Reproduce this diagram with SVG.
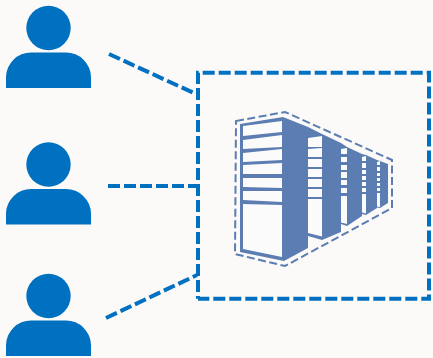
<svg xmlns="http://www.w3.org/2000/svg" width="433" height="358" viewBox="0 0 433 358">
<style>
.p{fill:#0070c0}
.c{fill:none;stroke:#0070c0;stroke-width:4;stroke-dasharray:12 4}
.o{fill:none;stroke:#5b7db1;stroke-width:2;stroke-dasharray:8 3.500}
.b{fill:#5b7db1}
.w{fill:#fbfbfb}
</style>
<defs>
<g id="person"><circle cx="48.5" cy="28" r="22.2"/><path d="M6 88V77A25 25 0 0 1 31 52.500H66A25 25 0 0 1 91 77V88Z"/></g>
</defs>
<rect width="433" height="358" fill="#fbfaf9"/>
<g id="user-1" class="p"><use href="#person"/></g>
<g id="user-2" class="p"><use href="#person" y="136.500"/></g>
<g id="user-3" class="p"><use href="#person" y="268"/></g>
<g id="connectors">
<path class="c" d="M109 54L196 94"/>
<path class="c" d="M108 186H197"/>
<path class="c" d="M106 318L197 275"/>
</g>
<g id="system">
<path class="c" stroke-dashoffset="9.300" d="M198 298.700V72.700H429V298.700H198"/>
</g>
<g id="servers">
<path class="o" d="M236 121L285 112L392 160V208L285 266L235 254Z"/>
<path class="b" d="M240 124L283 117L308 127L322 134L341 143L347 147L362 154L366 155L377 160L380 161L388 164V203L380 208L377 207.500V208L366 215L362 214V216L347 226L341 224V232L322 240L308 236V248L284 261L240 252Z"/>
<g class="w">
<path d="M243 126L282 121V132L243 136Z"/>
<path d="M243 140L282 135V147L243 149Z"/>
<path d="M243 153L282 149V160L243 162Z"/>
<path d="M243 165L282 163V174L243 174Z"/>
<path d="M243 178L282 178V188L243 187Z"/>
<path d="M243 191L282 191V202L243 200Z"/>
<path d="M243 204L282 205V257L243 249Z"/>
<path d="M308 138L322 136V147L308 147Z"/>
<path d="M308 149L322 148V157L308 157Z"/>
<path d="M308 159L322 159V167L308 167Z"/>
<path d="M308 169L322 169V177L308 177Z"/>
<path d="M308 179L322 179V187L308 187Z"/>
<path d="M308 189L322 189V197L308 197Z"/>
<path d="M308 199L322 199V236.500L308 233Z"/>
<path d="M341 149L347 148V154L341 154Z"/>
<path d="M341 157L347 157V162L341 162Z"/>
<path d="M341 165L347 165V170L341 170Z"/>
<path d="M341 172L347 172V178L341 178Z"/>
<path d="M341 180L347 180V185L341 185Z"/>
<path d="M341 188L347 188V193L341 193Z"/>
<path d="M341 196L347 196V224L341 222.500Z"/>
<path d="M362 157L366 156V161L362 161Z"/>
<path d="M362 163L366 163V168L362 168Z"/>
<path d="M362 170L366 170V174L362 174Z"/>
<path d="M362 176L366 176V180L362 180Z"/>
<path d="M362 182L366 182V186L362 186Z"/>
<path d="M362 188L366 188V192L362 192Z"/>
<path d="M362 194L366 194V213.500L362 212.500Z"/>
<path d="M377 162L380 161V165L377 165Z"/>
<path d="M377 167L380 167V171L377 171Z"/>
<path d="M377 173L380 173V176L377 176Z"/>
<path d="M377 178L380 178V181L377 181Z"/>
<path d="M377 183L380 183V186L377 186Z"/>
<path d="M377 188L380 188V191L377 191Z"/>
<path d="M377 193L380 193V207L377 206.500Z"/>
</g>
</g>
</svg>
